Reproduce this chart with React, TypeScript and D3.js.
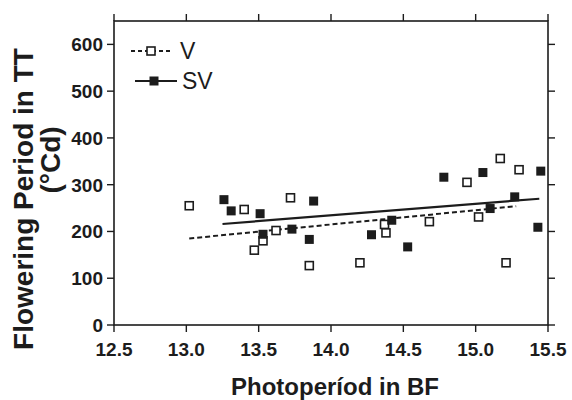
import React from "react";
import * as d3 from "d3";

const xTicks = [12.5, 13.0, 13.5, 14.0, 14.5, 15.0, 15.5];
const yTicks = [0, 100, 200, 300, 400, 500, 600];

const vX = [13.02, 13.40, 13.47, 13.53, 13.62, 13.72, 13.85, 14.20, 14.37, 14.38, 14.68, 14.94, 15.02, 15.17, 15.21, 15.30];
const vY = [255, 247, 160, 180, 202, 272, 127, 133, 215, 197, 221, 305, 231, 356, 133, 332];

const svX = [13.26, 13.31, 13.51, 13.53, 13.73, 13.85, 13.88, 14.28, 14.42, 14.53, 14.78, 15.05, 15.10, 15.27, 15.43, 15.45];
const svY = [268, 244, 238, 194, 205, 183, 265, 193, 224, 167, 316, 326, 249, 274, 209, 329];

const vLineX = [13.02, 15.28];
const vLineY = [185, 254];
const svLineX = [13.25, 15.44];
const svLineY = [216, 270];

const seriesNames = ["V", "SV"];
const xTitle = "Photoperíod in BF";
const yTitle1 = "Flowering Period in TT";
const yTitle2 = "(°Cd)";

const W = 572;
const H = 400;
const left = 114;
const right = 548;
const top = 21;
const bottom = 325;
const ink = "#1c1c1c";
const font = "'Liberation Sans', Arial, Helvetica, sans-serif";

export default function App() {
  const x = d3.scaleLinear().domain([12.5, 15.5]).range([left, right]);
  const y = d3.scaleLinear().domain([0, 650]).range([bottom, top]);
  const line = d3
    .line<[number, number]>()
    .x((d) => x(d[0]))
    .y((d) => y(d[1]));
  const vLine = vLineX.map((v, i) => [v, vLineY[i]] as [number, number]);
  const svLine = svLineX.map((v, i) => [v, svLineY[i]] as [number, number]);
  const tl = 7;
  const ms = 8;

  return (
    <svg
      width={W}
      height={H}
      viewBox={`0 0 ${W} ${H}`}
      style={{ position: "absolute", left: 0, top: 0, background: "#fff" }}
    >
      <rect x={0} y={0} width={W} height={H} fill="#fff" />
      {/* frame */}
      <rect
        x={left}
        y={top}
        width={right - left}
        height={bottom - top}
        fill="none"
        stroke={ink}
        strokeWidth={1.6}
      />
      {/* x ticks bottom & top */}
      {xTicks.map((t) => (
        <g key={"xt" + t}>
          <line x1={x(t)} x2={x(t)} y1={bottom} y2={bottom + tl} stroke={ink} strokeWidth={1.4} />
          <line x1={x(t)} x2={x(t)} y1={top} y2={top - tl} stroke={ink} strokeWidth={1.4} />
          <text
            x={x(t)}
            y={356}
            textAnchor="middle"
            fontFamily={font}
            fontWeight="bold"
            fontSize={19}
            fill={ink}
          >
            {t.toFixed(1)}
          </text>
        </g>
      ))}
      {/* y ticks left & right */}
      {yTicks.map((t) => (
        <g key={"yt" + t}>
          <line x1={left} x2={left - tl} y1={y(t)} y2={y(t)} stroke={ink} strokeWidth={1.4} />
          <line x1={right} x2={right + tl} y1={y(t)} y2={y(t)} stroke={ink} strokeWidth={1.4} />
          <text
            x={left - 11}
            y={y(t)}
            dy="0.36em"
            textAnchor="end"
            fontFamily={font}
            fontWeight="bold"
            fontSize={19}
            fill={ink}
          >
            {t}
          </text>
        </g>
      ))}
      {/* regression lines */}
      <path d={line(vLine) || ""} fill="none" stroke={ink} strokeWidth={2} strokeDasharray="5,3" />
      <path d={line(svLine) || ""} fill="none" stroke={ink} strokeWidth={2.2} />
      {/* V points: open squares */}
      {vX.map((v, i) => (
        <rect
          key={"v" + i}
          x={x(v) - ms / 2}
          y={y(vY[i]) - ms / 2}
          width={ms}
          height={ms}
          fill="#fff"
          stroke={ink}
          strokeWidth={1.6}
        />
      ))}
      {/* SV points: filled squares */}
      {svX.map((v, i) => (
        <rect
          key={"sv" + i}
          x={x(v) - (ms + 1) / 2}
          y={y(svY[i]) - (ms + 1) / 2}
          width={ms + 1}
          height={ms + 1}
          fill={ink}
        />
      ))}
      {/* legend */}
      <g>
        <line x1={131} x2={172} y1={51} y2={51} stroke={ink} strokeWidth={2} strokeDasharray="4,3" />
        <rect x={147} y={47} width={8} height={8} fill="#fff" stroke={ink} strokeWidth={1.6} />
        <text x={180} y={59} fontFamily={font} fontSize={23} fill={ink}>
          {seriesNames[0]}
        </text>
        <line x1={135} x2={177} y1={81} y2={81} stroke={ink} strokeWidth={2} />
        <rect x={149.5} y={76.5} width={9} height={9} fill={ink} />
        <text x={182} y={89} fontFamily={font} fontSize={23} fill={ink}>
          {seriesNames[1]}
        </text>
      </g>
      {/* axis titles */}
      <text
        x={(left + right) / 2 + 4}
        y={395}
        textAnchor="middle"
        fontFamily={font}
        fontWeight="bold"
        fontSize={24}
        fill={ink}
      >
        {xTitle}
      </text>
      <text
        transform={`translate(33,199) rotate(-90)`}
        textAnchor="middle"
        fontFamily={font}
        fontWeight="bold"
        fontSize={28}
        fill={ink}
      >
        {yTitle1}
      </text>
      <text
        transform={`translate(60,160) rotate(-90)`}
        textAnchor="middle"
        fontFamily={font}
        fontWeight="bold"
        fontSize={28}
        fill={ink}
      >
        {yTitle2}
      </text>
    </svg>
  );
}
